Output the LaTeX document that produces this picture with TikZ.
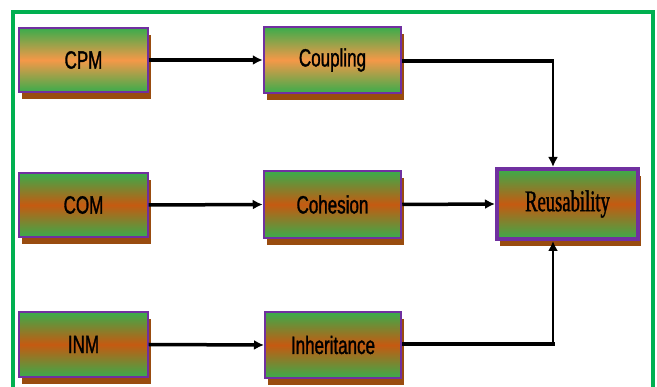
\documentclass[tikz,border=0pt]{standalone}
\usepackage{fontspec}
\usetikzlibrary{arrows.meta,shadows}
\newfontfamily\boxfont[FakeStretch=0.68,FakeBold=1.2]{Liberation Sans}
\newfontfamily\reusefont[FakeStretch=0.62,FakeBold=1.2]{Liberation Serif}
\definecolor{frameGreen}{RGB}{0,176,80}
\definecolor{boxGreen}{RGB}{58,172,76}
\definecolor{lightOrange}{RGB}{245,152,72}
\definecolor{darkOrange}{RGB}{197,90,17}
\definecolor{shadowBrown}{RGB}{153,76,15}
\definecolor{borderPurple}{RGB}{112,48,160}
\tikzset{
  basebox/.style={rectangle, draw=borderPurple, shade, top color=boxGreen, bottom color=boxGreen,
    general shadow={fill=shadowBrown, shadow xshift=3pt, shadow yshift=-7pt},
    inner sep=0pt, font=\boxfont\fontsize{25}{25}\selectfont},
  lightbox/.style={basebox, middle color=lightOrange},
  darkbox/.style={basebox, middle color=darkOrange},
  conn/.style={draw=black, line width=3.5pt},
  vconn/.style={draw=black, line width=2.2pt},
  tip/.style={-{Latex[length=10pt,width=10pt]}}
}
\begin{document}
\begin{tikzpicture}[x=1pt,y=-1pt]
\useasboundingbox (0,0) rectangle (657,387);
\fill[white] (0,0) rectangle (657,387);
\draw[frameGreen, line width=4pt] (12.5,12) rectangle (653,420);

\node[lightbox, line width=1.2pt, minimum width=129pt, minimum height=64pt] (cpm) at (83.5,60) {CPM};
\node[lightbox, line width=2.5pt, minimum width=137pt, minimum height=66pt] (coupling) at (332.5,60) {Coupling};
\node[darkbox, line width=1.2pt, minimum width=129pt, minimum height=64pt] (com) at (83.5,205) {COM};
\node[darkbox, line width=2.5pt, minimum width=137pt, minimum height=67pt] (cohesion) at (332.5,204.5) {Cohesion};
\node[darkbox, line width=1.2pt, minimum width=129pt, minimum height=65pt] (inm) at (83.5,344.5) {INM};
\node[darkbox, line width=2pt, minimum width=136pt, minimum height=66pt] (inheritance) at (333,345) {Inheritance};
\node[darkbox, line width=4pt, minimum width=141pt, minimum height=70pt,
      font=\reusefont\fontsize{30}{30}\selectfont] (reuse) at (567.5,204) {Reusability};

\coordinate (c1) at (553,61);
\coordinate (c2) at (553,344);

\draw[conn, tip] (cpm.east) -- (coupling.west);
\draw[conn, tip] (com.east) -- (cohesion.west);
\draw[conn, tip] (inm.east) -- (inheritance.west);
\draw[conn, tip] (cohesion.east) -- (reuse.west);
\draw[conn] (coupling.east |- c1) -- ([xshift=1pt]c1);
\draw[vconn, tip] (c1) -- (reuse.north -| c1);
\draw[conn, line width=4.5pt] (inheritance.east |- c2) -- ([xshift=1.5pt]c2);
\draw[vconn, line width=2.5pt, tip] (c2) -- (reuse.south -| c2);
\end{tikzpicture}
\end{document}
